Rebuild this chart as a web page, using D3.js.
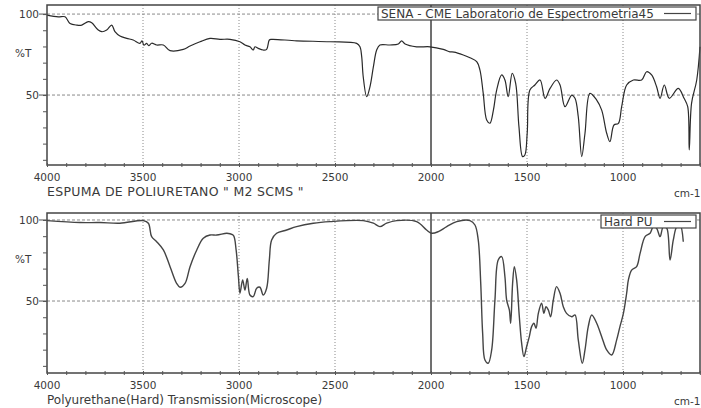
<!DOCTYPE html>
<html>
  <head>
    <meta http-equiv="Content-type" content="text/html; charset=utf-8">
    <title>IR espectro poliuretano</title>
    <script src="https://cdnjs.cloudflare.com/ajax/libs/d3/7.8.5/d3.min.js"></script>
    <style>
      body { margin: 0; background: #fff; }
      text { font-family: "DejaVu Sans", Verdana, sans-serif; fill: #3a3a3a; }
    </style>
  </head>
  <body>
  <div id="chart"></div>
  <script type="text/javascript">
    // top spectrum: ESPUMA DE POLIURETANO
    var topWn = [4000, 3941, 3906, 3880, 3845, 3819, 3785, 3767, 3733, 3715, 3689, 3663, 3646, 3620, 3585, 3551,
      3516, 3505, 3495, 3481, 3470, 3455, 3429, 3394, 3359, 3290, 3255, 3203, 3151, 3099, 3047, 2995, 2969, 2943,
      2926, 2917, 2900, 2874, 2856, 2842, 2830, 2700, 2526, 2387, 2370, 2361, 2353, 2335, 2318, 2300, 2283, 2266,
      2214, 2170, 2153, 2135, 2075, 2005, 1936, 1901, 1880, 1832, 1797, 1762, 1745, 1728, 1710, 1693, 1675, 1658,
      1632, 1615, 1598, 1577, 1559, 1542, 1523, 1511, 1499, 1485, 1459, 1432, 1406, 1380, 1346, 1328, 1302, 1267,
      1250, 1233, 1215, 1198, 1172, 1137, 1111, 1085, 1068, 1047, 1024, 1007, 981, 946, 903, 877, 851, 825, 807,
      785, 759, 712, 682, 663, 655, 643, 616, 599];
    var topT = [99.4, 98.3, 98.3, 94.2, 93.2, 93.2, 95.3, 94.6, 90.1, 89.1, 90.1, 93.2, 89.1, 86.4, 85, 84,
      81.9, 83.5, 80.8, 81.9, 80.5, 82, 80.9, 80.9, 77.4, 78.2, 80.3, 82.9, 85, 84.4, 84.4, 82.9, 80.9, 79.8,
      77.8, 79.8, 78.8, 77.8, 78.2, 84, 84.4, 83.5, 82.9, 81.9, 79.8, 73.7, 61.3, 49, 55.1, 67.5, 77.8, 80.9,
      80.9, 81.5, 83.5, 81.5, 79.8, 79.8, 78.2, 76.7, 76.5, 74.7, 73, 70.6, 65.4, 51, 34.6, 32.6, 40.7, 53.1,
      62.4, 59.3, 49, 63.4, 57.2, 30.5, 12, 13, 26.4, 53.1, 56.2, 59.3, 48, 54.1, 59.3, 56.2, 42.8, 50,
      48, 36.6, 12, 26.4, 51, 46.9, 40.7, 26.4, 21.2, 31.5, 32.5, 42.8, 56.2, 59.3, 59.3, 64.4, 62.4, 55.1, 48,
      56.2, 48, 54.1, 48, 42.8, 16.1, 44.9, 59.3, 79.8];

    // bottom spectrum: Polyurethane (Hard)
    var botWn = [4000, 3828, 3724, 3620, 3498, 3472, 3455, 3429, 3394, 3359, 3325, 3307, 3281, 3255, 3220, 3186,
      3151, 3116, 3064, 3047, 3029, 3015, 3003, 2995, 2981, 2969, 2957, 2943, 2926, 2908, 2891, 2874,
      2856, 2842, 2830, 2804, 2752, 2700, 2613, 2526, 2353, 2300, 2266, 2231, 2179, 2075, 2023, 1997, 1962, 1918,
      1866, 1797, 1771, 1754, 1741, 1731, 1719, 1702, 1684, 1667, 1650, 1632, 1615, 1606, 1592, 1585, 1575, 1566,
      1554, 1540, 1528, 1516, 1502, 1488, 1476, 1464, 1453, 1441, 1424, 1412, 1401, 1389, 1377, 1363, 1346, 1328,
      1311, 1294, 1267, 1250, 1233, 1212, 1198, 1181, 1163, 1137, 1111, 1085, 1059, 1033, 1016, 998, 981, 972, 955,
      929, 911, 885, 859, 842, 825, 807, 790, 772, 755, 738, 720, 703, 686];
    var botT = [99.6, 98.4, 98.4, 98, 99.6, 98, 89.7, 86.6, 81.5, 71.2, 60.9, 58.5, 60.9, 71.2, 81.5, 88.7,
      90.7, 90.7, 91.8, 91.5, 90.5, 81.5, 65, 54.8, 63, 56.8, 64, 53.7, 52.7, 57.9, 58.5, 53.7,
      57.9, 75.3, 87.7, 91.8, 93.8, 95.9, 98, 99, 99.6, 98, 95.9, 98, 99.6, 99, 93.8, 91.8, 92.8, 95.9,
      99, 99.6, 96.9, 87.7, 60.9, 30.1, 13.6, 11.6, 19.8, 50.6, 75.3, 77.4, 65, 50.6, 44.5, 36.3, 60.9, 71.2,
      63, 40.3, 24, 15.7, 21.8, 28, 34.2, 36.3, 33.2, 42.4, 48.6, 42.4, 46.5, 44.5, 40.3, 50.6, 58.9, 54.8,
      46.5, 42.4, 40.3, 41.4, 26, 11.6, 19.8, 34.2, 41.4, 36.3, 28, 19.8, 16.7, 26, 34.2, 42.4, 54.8, 63, 69.1,
      71.2, 79.4, 89.7, 91.8, 95.9, 94.9, 89.7, 95.9, 94.9, 75.3, 87.7, 95.9, 96.9, 86.6];

    var xTicks = [4000, 3500, 3000, 2500, 2000, 1500, 1000];
    var yTicks = [100, 50];

    var width = 701, height = 408;
    var left = 47, right = 700;

    var svg = d3.select('#chart').append('svg')
      .attr('width', width)
      .attr('height', height);

    var x = d3.scaleLinear().domain([4000, 599]).range([left, right]);

    var panels = [
      { wn: topWn, t: topT, top: 5, bottom: 165, dom: [6.8, 105.6], stroke: '#2a2a2a', sw: 1.2,
        caption: 'ESPUMA DE POLIURETANO " M2 SCMS "', capSize: 12.5, capLs: 0.3,
        legend: 'SENA - CME Laboratorio de Espectrometria45', legX: 378 },
      { wn: botWn, t: botT, top: 213, bottom: 373, dom: [5.6, 104.3], stroke: '#444', sw: 1.4,
        caption: 'Polyurethane(Hard)  Transmission(Microscope)', capSize: 12, capLs: 0,
        legend: 'Hard PU', legX: 601 }
    ];

    panels.forEach(function(p) {
      var y = d3.scaleLinear().domain(p.dom).range([p.bottom, p.top]);
      var g = svg.append('g');

      // grid
      g.selectAll('.vg').data(xTicks.filter(function(d) { return d !== 4000; })).enter()
        .append('line')
        .attr('x1', function(d) { return x(d); }).attr('x2', function(d) { return x(d); })
        .attr('y1', p.top).attr('y2', p.bottom)
        .attr('stroke', function(d) { return d === 2000 ? '#333' : '#8a8a8a'; })
        .attr('stroke-width', function(d) { return d === 2000 ? 1.4 : 1; })
        .attr('stroke-dasharray', function(d) { return d === 2000 ? null : '1,2'; });
      g.selectAll('.hg').data(yTicks).enter()
        .append('line')
        .attr('x1', left).attr('x2', right)
        .attr('y1', function(d) { return y(d); }).attr('y2', function(d) { return y(d); })
        .attr('stroke', '#8a8a8a').attr('stroke-dasharray', '3,2');

      // spectrum
      var line = d3.line()
        .x(function(d) { return x(d[0]); })
        .y(function(d) { return y(d[1]); })
        .curve(d3.curveCatmullRom.alpha(0.5));
      g.append('path')
        .datum(d3.zip(p.wn, p.t))
        .attr('d', line)
        .attr('fill', 'none')
        .attr('stroke', p.stroke)
        .attr('stroke-width', p.sw)
        .attr('stroke-linejoin', 'round');

      // frame
      g.append('rect')
        .attr('x', left).attr('y', p.top)
        .attr('width', right - left).attr('height', p.bottom - p.top)
        .attr('fill', 'none').attr('stroke', '#444').attr('stroke-width', 1.5);

      // x axis
      var xa = d3.axisBottom(x).tickValues(d3.range(4000, 599, -100)).tickSize(4).tickFormat('');
      g.append('g').attr('transform', 'translate(0,' + (p.bottom - 2) + ')').call(xa)
        .call(function(s) { s.select('.domain').remove(); s.selectAll('line').attr('stroke', '#555'); });
      g.selectAll('.xl').data(xTicks).enter()
        .append('text')
        .attr('x', function(d) { return x(d); })
        .attr('y', p.bottom + 16)
        .attr('text-anchor', 'middle')
        .attr('font-size', 10.5)
        .text(function(d) { return d; });

      // y axis
      var ya = d3.axisLeft(y).tickValues(d3.range(10, 101, 10)).tickSize(4).tickFormat('');
      g.append('g').attr('transform', 'translate(' + left + ',0)').call(ya)
        .call(function(s) { s.select('.domain').remove(); s.selectAll('line').attr('stroke', '#555'); });
      g.selectAll('.ym').data(yTicks).enter()
        .append('line')
        .attr('x1', left - 8).attr('x2', left)
        .attr('y1', function(d) { return y(d); }).attr('y2', function(d) { return y(d); })
        .attr('stroke', '#555');
      g.selectAll('.yl').data(yTicks).enter()
        .append('text')
        .attr('x', left - 8)
        .attr('y', function(d) { return y(d) + 4; })
        .attr('text-anchor', 'end')
        .attr('font-size', 10.5)
        .text(function(d) { return d; });
      g.append('text').attr('x', 15).attr('y', y(76) + 4).attr('font-size', 10.5).text('%T');

      // captions
      g.append('text').attr('x', left).attr('y', p.bottom + 31)
        .attr('font-size', p.capSize).attr('letter-spacing', p.capLs).text(p.caption);
      g.append('text').attr('x', 674).attr('y', p.bottom + 32).attr('font-size', 10.5).text('cm-1');

      // legend
      var lg = g.append('g');
      lg.append('rect')
        .attr('x', p.legX).attr('y', p.top + 2)
        .attr('width', 696 - p.legX).attr('height', 13)
        .attr('fill', '#fff').attr('stroke', '#444').attr('stroke-width', 1.2);
      lg.append('text')
        .attr('x', p.legX + 3).attr('y', p.top + 12.5)
        .attr('font-size', 12).text(p.legend);
      lg.append('line')
        .attr('x1', 664).attr('x2', 691)
        .attr('y1', p.top + 8.5).attr('y2', p.top + 8.5)
        .attr('stroke', '#444').attr('stroke-width', 1.2);
    });
  </script>
  </body>
</html>
